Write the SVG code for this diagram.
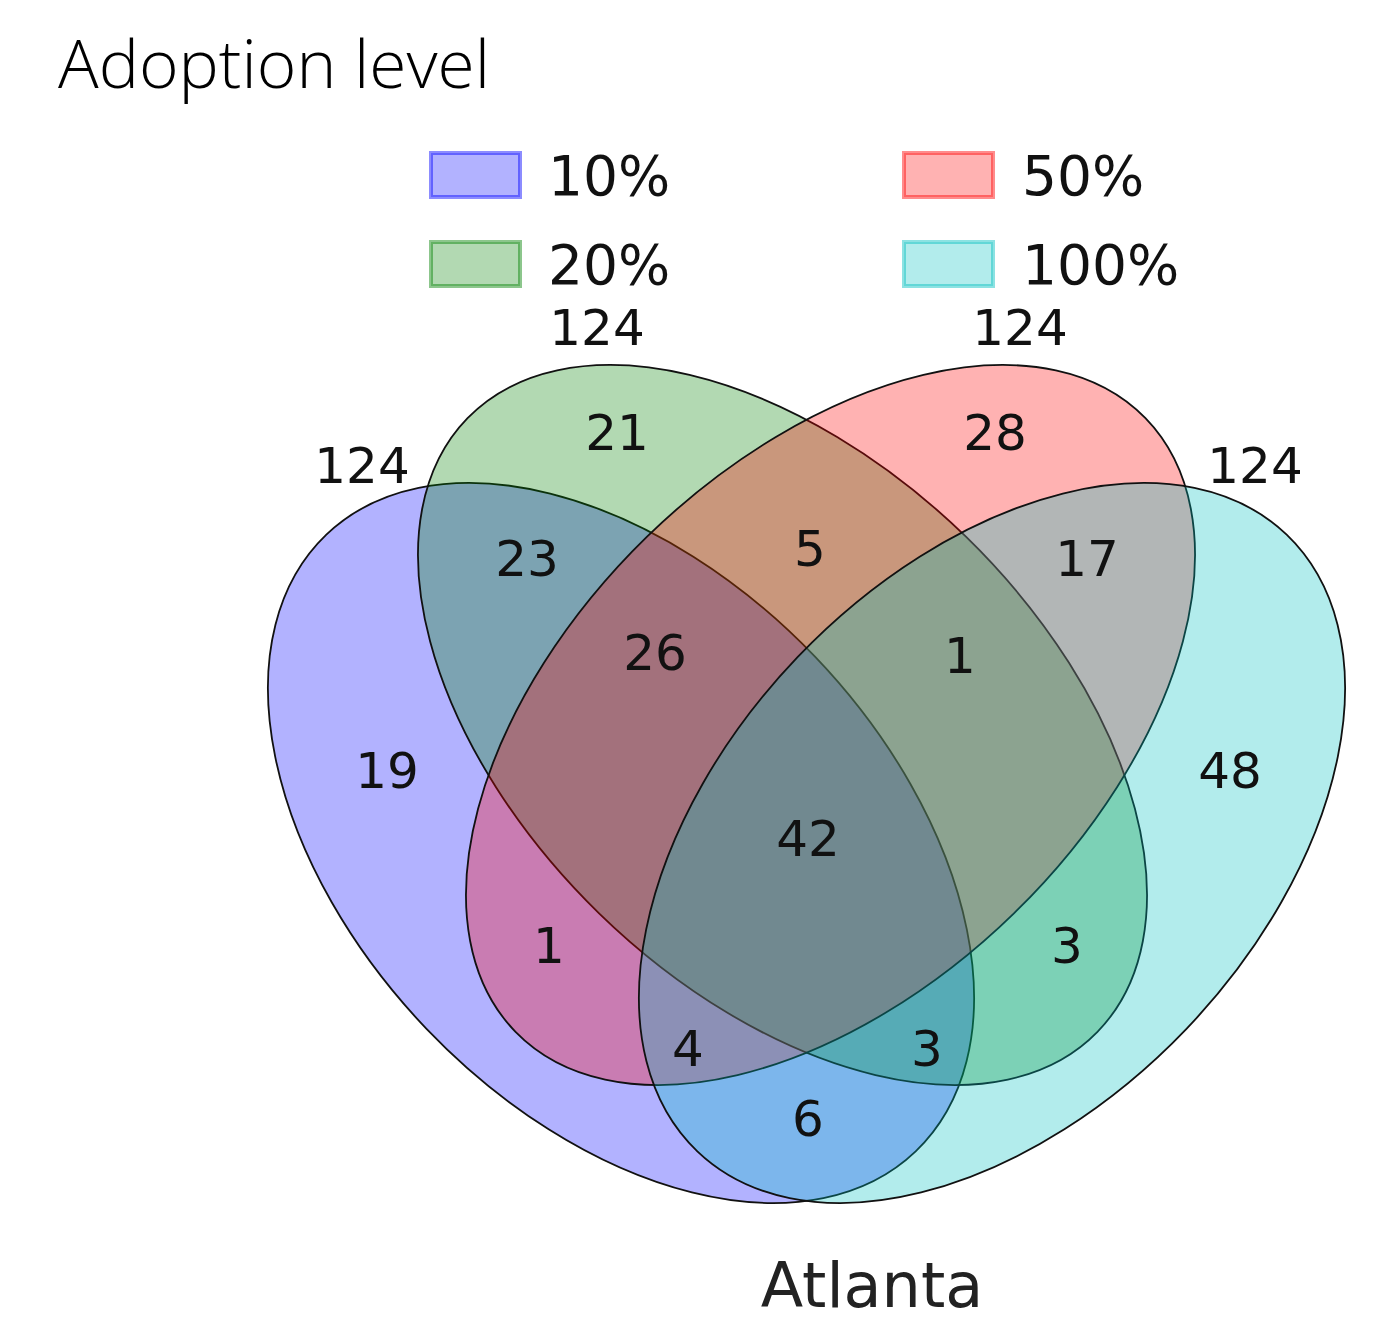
<svg xmlns="http://www.w3.org/2000/svg" width="1381" height="1321" viewBox="0 0 1381 1321">
<style>
.num{font-family:"DejaVu Sans",sans-serif;font-size:50px;fill:#111;text-anchor:middle}
.leg{font-family:"DejaVu Sans",sans-serif;font-size:55px;fill:#111}
.ell{stroke:#111;stroke-width:1.8;fill-opacity:0.3}
.key{fill-opacity:0.3;stroke-opacity:0.45;stroke-width:4}
</style>
<rect width="1381" height="1321" fill="#ffffff"/>
<text x="58" y="88" font-family="Open Sans, sans-serif" font-weight="300" font-size="66" textLength="432" lengthAdjust="spacingAndGlyphs" fill="#000">Adoption level</text>
<g id="legend">
  <g id="legend-10"><rect class="key" x="431" y="153" width="89" height="44" fill="#0000ff" stroke="#0000ff"/><text class="leg" x="548" y="195">10%</text></g>
  <g id="legend-20"><rect class="key" x="431" y="242" width="89" height="44" fill="#008000" stroke="#008000"/><text class="leg" x="548" y="284">20%</text></g>
  <g id="legend-50"><rect class="key" x="904" y="153" width="89" height="44" fill="#ff0000" stroke="#ff0000"/><text class="leg" x="1022" y="195">50%</text></g>
  <g id="legend-100"><rect class="key" x="904" y="242" width="89" height="44" fill="#00bfbf" stroke="#00bfbf"/><text class="leg" x="1022" y="284">100%</text></g>
</g>
<g id="set-10"><ellipse class="ell" cx="621" cy="843" rx="426.5" ry="269" transform="rotate(46.3 621 843)" fill="#0000ff"/></g>
<g id="set-20"><ellipse class="ell" cx="782.5" cy="725" rx="439.7" ry="262.9" transform="rotate(44.25 782.5 725)" fill="#008000"/></g>
<g id="set-50"><ellipse class="ell" cx="830.5" cy="725" rx="439.7" ry="262.9" transform="rotate(-44.25 830.5 725)" fill="#ff0000"/></g>
<g id="set-100"><ellipse class="ell" cx="992" cy="843" rx="426.5" ry="269" transform="rotate(-46.3 992 843)" fill="#00bfbf"/></g>
<g id="set-sizes">
  <text class="num" x="362" y="483">124</text>
  <text class="num" x="597" y="345">124</text>
  <text class="num" x="1020" y="345">124</text>
  <text class="num" x="1255" y="483">124</text>
</g>
<g id="region-counts">
  <text class="num" x="387" y="788">19</text>
  <text class="num" x="617" y="450">21</text>
  <text class="num" x="995" y="450">28</text>
  <text class="num" x="1230" y="788">48</text>
  <text class="num" x="527" y="576">23</text>
  <text class="num" x="1087" y="576">17</text>
  <text class="num" x="810" y="566">5</text>
  <text class="num" x="655" y="670">26</text>
  <text class="num" x="960" y="673">1</text>
  <text class="num" x="808" y="856">42</text>
  <text class="num" x="549" y="963">1</text>
  <text class="num" x="1067" y="963">3</text>
  <text class="num" x="688" y="1066">4</text>
  <text class="num" x="927" y="1066">3</text>
  <text class="num" x="808" y="1136">6</text>
</g>
<text x="872" y="1307" font-family="DejaVu Sans, sans-serif" font-size="62" fill="#222" text-anchor="middle">Atlanta</text>
</svg>
